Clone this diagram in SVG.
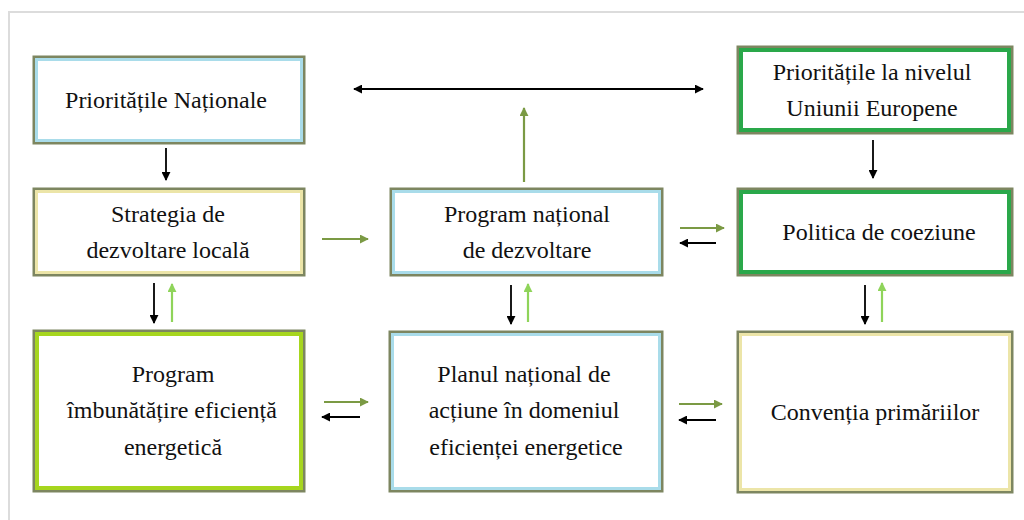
<svg xmlns="http://www.w3.org/2000/svg" width="1024" height="520" viewBox="0 0 1024 520">
<style>
text{font-family:"Liberation Serif","Times New Roman",Times,Tinos,"Noto Serif","DejaVu Serif",FreeSerif,Georgia,serif;font-size:24px;fill:#111;text-anchor:middle}
.o{fill:#fff;stroke:#7d8660;stroke-width:3}
.blue{fill:none;stroke:#a9dcea;stroke-width:3}
.cream{fill:none;stroke:#ece5a8;stroke-width:3}
.lime{fill:none;stroke:#a6d61e;stroke-width:4}
.grn{fill:none;stroke:#2aa84a;stroke-width:4}
.k{stroke:#000;stroke-width:1.8;fill:none}
.g{stroke:#7b9a44;stroke-width:2.2;fill:none}
.lg{stroke:#8fd45a;stroke-width:2.2;fill:none}
</style>
<defs>
<marker id="ak" viewBox="0 0 10 10" refX="9" refY="5" markerWidth="9" markerHeight="9" orient="auto-start-reverse" markerUnits="userSpaceOnUse"><path d="M0,0L10,5L0,10z" fill="#000"/></marker>
<marker id="ag" viewBox="0 0 10 10" refX="9" refY="5" markerWidth="9" markerHeight="9" orient="auto" markerUnits="userSpaceOnUse"><path d="M0,0L10,5L0,10z" fill="#7b9a44"/></marker>
<marker id="alg" viewBox="0 0 10 10" refX="9" refY="5" markerWidth="9" markerHeight="9" orient="auto" markerUnits="userSpaceOnUse"><path d="M0,0L10,5L0,10z" fill="#8fd45a"/></marker>
</defs>
<rect width="1024" height="520" fill="#fff"/>
<path d="M9,520V12H1024" fill="none" stroke="#dcdcdc" stroke-width="2"/>

<g id="n1"><rect class="o" x="34" y="57" width="270" height="86"/><rect class="blue" x="36.5" y="59.5" width="265" height="81"/><text x="166" y="108">Prioritățile Naționale</text></g>
<g id="n2"><rect class="o" x="34" y="189" width="270" height="86"/><rect class="cream" x="36.5" y="191.5" width="265" height="81"/><text x="168" y="222">Strategia de</text><text x="168" y="258">dezvoltare locală</text></g>
<g id="n3"><rect class="o" x="34" y="331" width="270" height="160"/><rect class="lime" x="37" y="334" width="264" height="154"/><text x="173" y="382">Program</text><text x="172" y="418">îmbunătățire eficiență</text><text x="173" y="455">energetică</text></g>
<g id="n4"><rect class="o" x="391" y="189" width="271" height="86"/><rect class="blue" x="393.5" y="191.5" width="266" height="81"/><text x="527" y="222">Program național</text><text x="527" y="258">de dezvoltare</text></g>
<g id="n5"><rect class="o" x="390" y="332" width="272" height="159"/><rect class="blue" x="392.5" y="334.5" width="267" height="154"/><text x="524" y="382">Planul național de</text><text x="524" y="418">acțiune în domeniul</text><text x="526" y="455">eficienței energetice</text></g>
<g id="n6"><rect class="o" x="738" y="47" width="274" height="86"/><rect class="grn" x="741" y="50" width="268" height="80"/><text x="872" y="80">Prioritățile la nivelul</text><text x="872" y="116">Uniunii Europene</text></g>
<g id="n7"><rect class="o" x="738" y="189" width="274" height="86"/><rect class="grn" x="741" y="192" width="268" height="80"/><text x="879" y="240">Politica de coeziune</text></g>
<g id="n8"><rect class="o" x="738" y="332" width="274" height="160"/><rect class="cream" x="740.5" y="334.5" width="269" height="155"/><text x="875" y="420">Convenția primăriilor</text></g>

<g id="connectors">
<line class="k" x1="354" y1="89" x2="703" y2="89" marker-start="url(#ak)" marker-end="url(#ak)"/>
<line class="g" x1="524" y1="182" x2="524" y2="108" marker-end="url(#ag)"/>
<line class="k" x1="166" y1="148" x2="166" y2="180" marker-end="url(#ak)"/>
<line class="k" x1="873" y1="140" x2="873" y2="178" marker-end="url(#ak)"/>
<line class="g" x1="322" y1="239" x2="368" y2="239" marker-end="url(#ag)"/>
<line class="g" x1="680" y1="228" x2="724" y2="228" marker-end="url(#ag)"/>
<line class="k" x1="716" y1="243" x2="680" y2="243" marker-end="url(#ak)"/>
<line class="k" x1="154" y1="283" x2="154" y2="323" marker-end="url(#ak)"/>
<line class="lg" x1="172" y1="322" x2="172" y2="284" marker-end="url(#alg)"/>
<line class="k" x1="511" y1="285" x2="511" y2="324" marker-end="url(#ak)"/>
<line class="lg" x1="528" y1="322" x2="528" y2="284" marker-end="url(#alg)"/>
<line class="k" x1="865" y1="285" x2="865" y2="324" marker-end="url(#ak)"/>
<line class="lg" x1="882" y1="322" x2="882" y2="283" marker-end="url(#alg)"/>
<line class="g" x1="324" y1="402" x2="368" y2="402" marker-end="url(#ag)"/>
<line class="k" x1="360" y1="417" x2="322" y2="417" marker-end="url(#ak)"/>
<line class="g" x1="679" y1="404" x2="722" y2="404" marker-end="url(#ag)"/>
<line class="k" x1="716" y1="420" x2="679" y2="420" marker-end="url(#ak)"/>
</g>
</svg>
